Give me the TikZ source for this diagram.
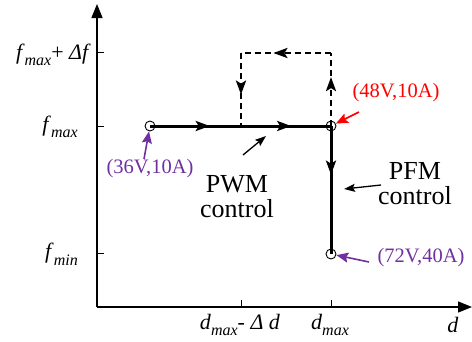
\documentclass[tikz,border=0pt]{standalone}
\usepackage{fontspec}
\setmainfont{Liberation Serif}
\usetikzlibrary{arrows.meta,decorations.markings}
\definecolor{vio}{RGB}{112,48,160}
\definecolor{rd}{RGB}{255,0,0}
\newcommand{\fsb}[2]{\textit{#1}\raisebox{-0.3em}{\fontsize{16}{16}\selectfont\textit{#2}}}
\tikzset{
  axis/.style={line width=1.4pt,-{Triangle[length=14pt,width=11pt]}},
  tick/.style={line width=1pt},
  mainline/.style={line width=3pt},
  dashline/.style={line width=2.6pt,dash pattern=on 6pt off 4pt},
  pt/.style={circle,draw,line width=0.9pt,minimum size=10pt,inner sep=0pt},
  tipat/.style={postaction={decorate},decoration={markings,mark=at position #1 with {\arrow{Stealth[length=14pt,width=10pt,inset=3pt]}}}},
  lab/.style={font=\fontsize{22}{22}\selectfont,inner sep=0pt},
  blab/.style={font=\fontsize{26}{26}\selectfont,inner sep=0pt},
  vlab/.style={font=\fontsize{20.5}{20.5}\selectfont,inner sep=0pt},
  varr/.style={line width=1.6pt,vio,-{Stealth[length=12pt,width=10pt,inset=2pt]}},
  karr/.style={line width=1.3pt,-{Stealth[length=11pt,width=8pt,inset=2pt]}},
}
\begin{document}
\begin{tikzpicture}[x=1pt,y=-1pt]
\useasboundingbox (0,0) rectangle (472,341);
% axes
\coordinate (O) at (97,307);
\coordinate (Ytop) at (97,4);
\coordinate (Xend) at (472,307);
\draw[axis] (O) -- (Ytop);
\draw[axis] (O) -- (Xend);
% ticks
\coordinate (t1) at (97,52); \coordinate (t2) at (97,126); \coordinate (t3) at (97,253);
\draw[tick] (t1) -- ++(7,0);
\draw[tick] (t2) -- ++(7,0);
\draw[tick] (t3) -- ++(7,0);
\coordinate (t4) at (241,307); \coordinate (t5) at (331,307);
\draw[tick] (t4) -- ++(0,-7);
\draw[tick] (t5) -- ++(0,-7);
% axis labels
\node[lab,anchor=east] (ly1) at (91,55) {\fsb{f}{max}+ \textit{Δf}};
\node[lab,anchor=east] (ly2) at (78,127) {\fsb{f}{max}};
\node[lab,anchor=east] (ly3) at (78,254) {\fsb{f}{min}};
\node[lab] (lx1) at (240,325) {\fsb{d}{max}- \textit{Δ d}};
\node[lab] (lx2) at (330,325) {\fsb{d}{max}};
\node[lab] (lx3) at (453,325) {\textit{d}};
% points
\node[pt] (A) at (150,126) {};
\node[pt] (B) at (331,126) {};
\node[pt] (F) at (331,254) {};
\coordinate (C) at (331,53);
\coordinate (D) at (241,53);
\coordinate (E) at (241,126);
% main path
\draw[dashline,tipat=0.67] (B.center) -- (C);
\draw[dashline,tipat=0.64] (C) -- (D);
\draw[dashline,tipat=0.57] (D) -- (E);
\draw[mainline,postaction={decorate},decoration={markings,
  mark=at position 0.33 with {\arrow{Stealth[length=14pt,width=10pt,inset=3pt]}},
  mark=at position 0.78 with {\arrow{Stealth[length=14pt,width=10pt,inset=3pt]}}}] (A.center) -- (B.center);
\draw[mainline,tipat=0.38] (B.center) -- (F.center);
% labels
\node[vlab,text=vio] (L36) at (150,169) {(36V,10A)};
\coordinate (a36) at (144,159);
\draw[varr] (a36) -- (A);
\node[vlab,text=rd] (L48) at (396,93) {(48V,10A)};
\coordinate (a48) at (359,112);
\draw[line width=1.6pt,rd,-{Stealth[length=12pt,width=10pt,inset=2pt]}] (a48) -- (B);
\node[vlab,text=vio] (L72) at (421,258) {(72V,40A)};
\coordinate (a72) at (369,262);
\draw[varr] (a72) -- (F);
\node[blab,align=center] (PWM) at (237,197) {PWM\\[-1pt]control};
\coordinate (pw1) at (243,155); \coordinate (pw2) at (266,136);
\draw[karr] (pw1) -- (pw2);
\node[blab,align=center] (PFM) at (415,184) {PFM\\[-1pt]control};
\coordinate (pf1) at (381,185); \coordinate (pf2) at (344,189);
\draw[karr] (pf1) -- (pf2);
\end{tikzpicture}
\end{document}
